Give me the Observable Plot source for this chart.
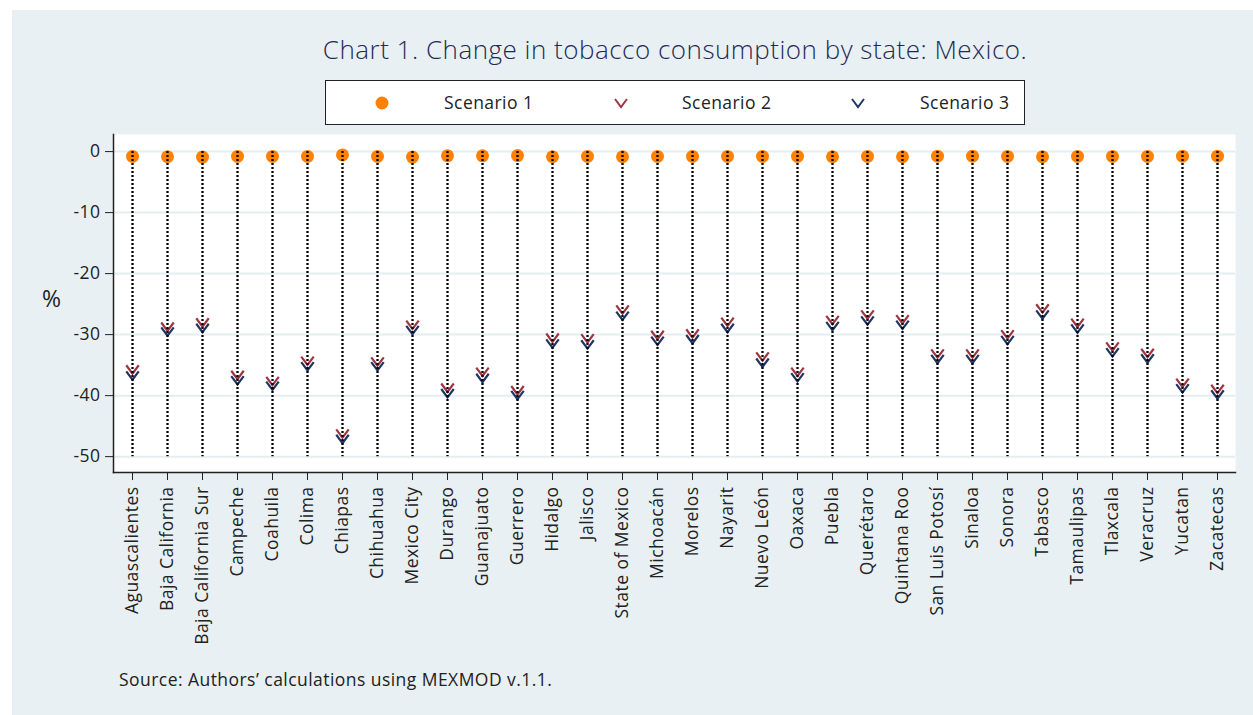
<!DOCTYPE html>
<html>
<head>
<meta charset="utf-8">
<script src="https://cdn.jsdelivr.net/npm/d3@7"></script>
<script src="https://cdn.jsdelivr.net/npm/@observablehq/plot@0.6"></script>
<style>
  html, body { margin: 0; padding: 0; background: #ffffff; }
  #page { position: absolute; left: 12px; top: 10px; width: 1241px; height: 705px; background: #e8f0f3; font-family: "Open Sans", Lato, sans-serif; }
  #title { position: absolute; left: 0; width: 1326px; top: 21px; text-align: center; font-size: 26px; letter-spacing: 0.5px; font-weight: 300; color: #1e2b55; }
  #legend { position: absolute; left: 313px; top: 70px; width: 698px; height: 43px; background: #fff; border: 1px solid #222; }
  .li { position: absolute; top: 9px; font-size: 17.5px; letter-spacing: 0.45px; color: #222; }
  #ylab { position: absolute; left: 30px; top: 272px; font-size: 23px; color: #222; }
  #source { position: absolute; left: 107px; top: 657px; font-size: 17.5px; letter-spacing: 0.45px; color: #222; }
  #chart { position: absolute; left: 0; top: 0; }
</style>
</head>
<body>
<div id="page">
  <div id="chart"></div>
  <div id="title">Chart 1. Change in tobacco consumption by state: Mexico.</div>
  <div id="legend">
    <svg width="698" height="43" style="position:absolute;left:0;top:0">
      <circle cx="56" cy="22" r="6.5" fill="#fd8204"></circle>
      <path d="M289,18 L295,26 L301,18" fill="none" stroke="#a0343f" stroke-width="2"></path>
      <path d="M526,18 L532,26 L538,18" fill="none" stroke="#1f3564" stroke-width="2"></path>
    </svg>
    <span class="li" style="left:118px">Scenario 1</span>
    <span class="li" style="left:356px">Scenario 2</span>
    <span class="li" style="left:594px">Scenario 3</span>
  </div>
  <div id="ylab">%</div>
  <div id="source">Source: Authors’ calculations using MEXMOD v.1.1.</div>
</div>
<script>
const states = ["Aguascalientes","Baja California","Baja California Sur","Campeche","Coahuila","Colima","Chiapas","Chihuahua","Mexico City","Durango","Guanajuato","Guerrero","Hidalgo","Jalisco","State of Mexico","Michoacán","Morelos","Nayarit","Nuevo León","Oaxaca","Puebla","Querétaro","Quintana Roo","San Luis Potosí","Sinaloa","Sonora","Tabasco","Tamaulipas","Tlaxcala","Veracruz","Yucatan","Zacatecas"];
const scenario1 = [-0.8,-0.85,-0.9,-0.8,-0.8,-0.8,-0.55,-0.8,-0.9,-0.7,-0.7,-0.65,-0.85,-0.8,-0.85,-0.8,-0.8,-0.8,-0.8,-0.8,-0.85,-0.8,-0.85,-0.75,-0.75,-0.8,-0.85,-0.8,-0.8,-0.8,-0.75,-0.75];
const scenario2 = [-35.7,-28.7,-28.0,-36.6,-37.6,-34.3,-46.2,-34.4,-28.4,-38.7,-36.1,-39.1,-30.5,-30.6,-25.9,-30.05,-29.8,-27.9,-33.6,-36.1,-27.6,-26.7,-27.5,-33.1,-33.1,-29.95,-25.7,-28.05,-31.95,-33.0,-37.9,-38.9];
const scenario3 = [-36.7,-29.5,-28.9,-37.5,-38.4,-35.2,-47.1,-35.2,-29.25,-39.6,-37.1,-39.9,-31.45,-31.6,-26.9,-31.0,-30.75,-28.9,-34.6,-37.0,-28.6,-27.7,-28.4,-34.0,-34.0,-30.9,-26.7,-29.0,-32.9,-33.9,-38.8,-39.8];
const yTicks = [0,-10,-20,-30,-40,-50];
const dropTop = 0, dropBottom = -50;

const rows = states.map((s,i) => ({state: s, s1: scenario1[i], s2: scenario2[i], s3: scenario3[i]}));

const chevron = {
  draw(ctx, size) {
    const r = Math.sqrt(size / Math.PI);
    const w = r * 1.2, h = r * 0.8;
    ctx.moveTo(-w, -h);
    ctx.lineTo(0, h);
    ctx.lineTo(w, -h);
  }
};

const chart = Plot.plot({
  width: 1241,
  height: 650,
  marginLeft: 101,
  marginRight: 18,
  marginTop: 124,
  marginBottom: 188,
  style: {fontFamily: "'Open Sans', Lato, sans-serif", fontSize: "17.5px", letterSpacing: "0.45px", color: "#222", background: "transparent", overflow: "visible"},
  x: {type: "point", domain: states, padding: 0.46, label: null},
  y: {domain: [-52.6, 2.8], label: null},
  marks: [
    Plot.frame({fill: "white", stroke: null}),
    Plot.gridY(yTicks, {stroke: "#e4edf1", strokeWidth: 2, strokeOpacity: 1}),
    Plot.dot(rows, {x: "state", y: "s1", r: 6.5, fill: "#fd8204", stroke: null}),
    Plot.dot(rows, {x: "state", y: "s2", r: 5.2, symbol: chevron, fill: "none", stroke: "#a0343f", strokeWidth: 2.2}),
    Plot.dot(rows, {x: "state", y: "s3", r: 5.2, symbol: chevron, fill: "none", stroke: "#1f3564", strokeWidth: 2.2}),
    Plot.ruleX(states, {x: d => d, y1: dropTop, y2: dropBottom, stroke: "#000", strokeWidth: 2.3, strokeDasharray: "2 2"}),
    Plot.frame({anchor: "left", stroke: "#222", strokeWidth: 1.5}),
    Plot.frame({anchor: "bottom", stroke: "#222", strokeWidth: 1.5}),
    Plot.axisY(yTicks, {tickSize: 8, tickPadding: 5, tickFormat: d => String(d), fontSize: 17.5, stroke: "#222", label: null}),
    Plot.axisX({tickSize: 8, tickPadding: 6, tickRotate: -90, fontSize: 17.5, stroke: "#222", label: null})
  ]
});
document.getElementById("chart").appendChild(chart);
</script>
</body>
</html>
